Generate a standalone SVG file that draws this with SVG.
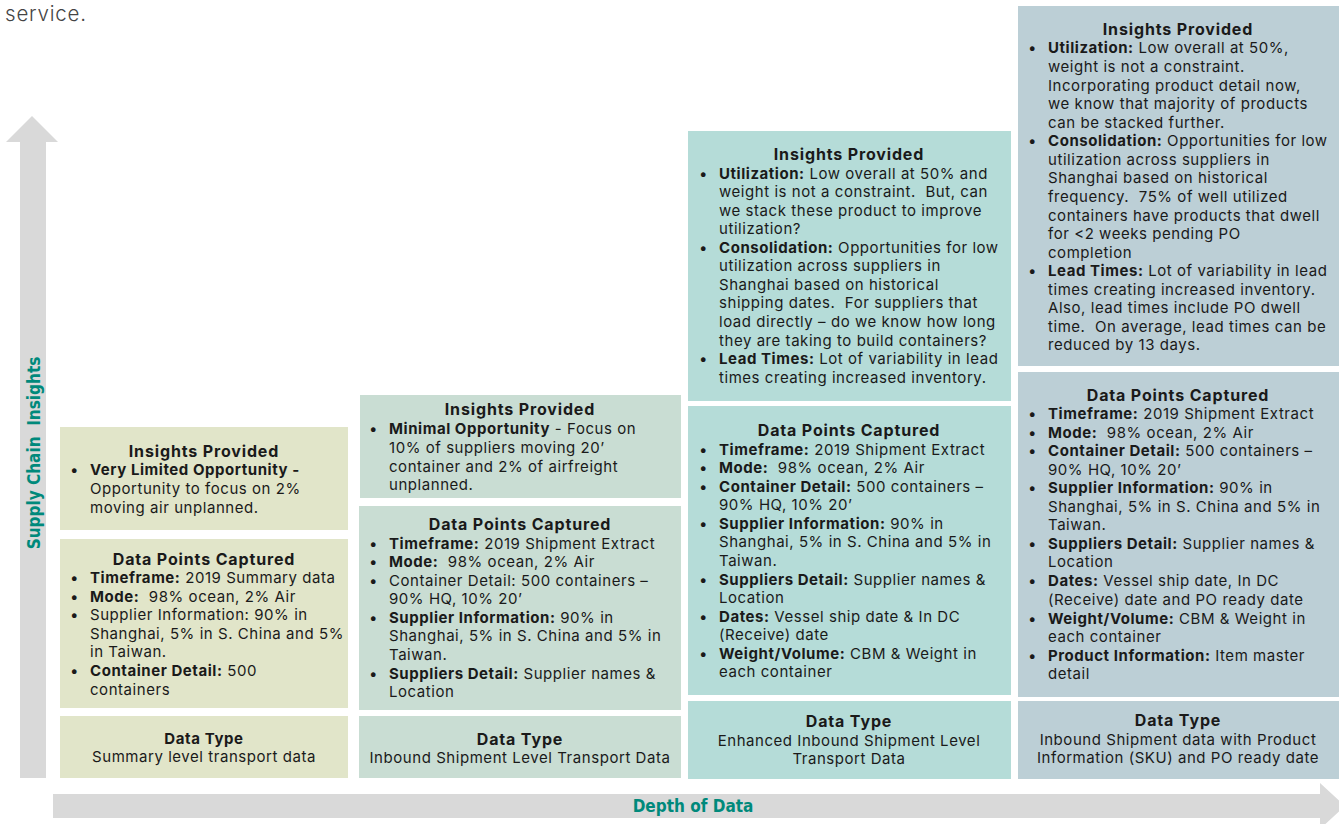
<svg xmlns="http://www.w3.org/2000/svg" width="1339" height="824" viewBox="0 0 1339 824">
<style>
text{font-family:Inter,"DejaVu Sans",sans-serif;fill:#1a1a1a;white-space:pre}
.t{font-size:15px;letter-spacing:0.55px}
.h{font-size:16px;font-weight:700;text-anchor:middle;letter-spacing:0.85px}
.c{font-size:15px;text-anchor:middle;letter-spacing:0.55px}
.b{font-weight:700}
.ax{font-family:"DejaVu Sans Condensed","DejaVu Sans","Liberation Sans",sans-serif;font-weight:700;font-size:17px;fill:#00897b;text-anchor:middle}
.c1{fill:#e1e5c9}.c2{fill:#c9ddd3}.c3{fill:#b5dcd8}.c4{fill:#bccfd6}
.arrow{fill:#d9d9d9}
</style>
<text x="5" y="21" style="font-size:20.5px;fill:#444;font-weight:300;letter-spacing:0.8px">service.</text>
<g id="axes">
<polygon class="arrow" points="32,116 58,142 46,142 46,778 20,778 20,142 6,142"/>
<polygon class="arrow" points="53,794 1320,794 1320,783 1345,806 1320,829 1320,818 53,818"/>
<text class="ax" transform="translate(40,453) rotate(-90)">Supply Chain  Insights</text>
<text class="ax" x="693" y="812">Depth of Data</text>
</g>
<g id="col1-insights">
<rect class="c1" x="60" y="427" width="288" height="103"/>
<text class="h" x="204" y="457">Insights Provided</text>
<text class="t" x="70" y="475">•</text>
<text class="t" x="90" y="475"><tspan class="b">Very Limited Opportunity -</tspan></text>
<text class="t" x="90" y="494">Opportunity to focus on 2%</text>
<text class="t" x="90" y="513">moving air unplanned.</text>
</g>
<g id="col1-data">
<rect class="c1" x="60" y="539" width="288" height="169"/>
<text class="h" x="204" y="565">Data Points Captured</text>
<text class="t" x="70" y="583">•</text>
<text class="t" x="90" y="583"><tspan class="b">Timeframe:</tspan> 2019 Summary data</text>
<text class="t" x="70" y="602">•</text>
<text class="t" x="90" y="602"><tspan class="b">Mode:</tspan>  98% ocean, 2% Air</text>
<text class="t" x="70" y="620">•</text>
<text class="t" x="90" y="620">Supplier Information: 90% in</text>
<text class="t" x="90" y="639">Shanghai, 5% in S. China and 5%</text>
<text class="t" x="90" y="657">in Taiwan.</text>
<text class="t" x="70" y="676">•</text>
<text class="t" x="90" y="676"><tspan class="b">Container Detail:</tspan> 500</text>
<text class="t" x="90" y="695">containers</text>
</g>
<g id="col1-type">
<rect class="c1" x="60" y="716" width="288" height="62"/>
<text class="h" x="204" y="744" style="font-size:15px;letter-spacing:0.6px">Data Type</text>
<text class="c" x="204" y="762">Summary level transport data</text>
</g>
<g id="col2-insights">
<rect class="c2" x="360" y="395" width="321" height="103"/>
<text class="h" x="520" y="415">Insights Provided</text>
<text class="t" x="369" y="434">•</text>
<text class="t" x="389" y="434"><tspan class="b">Minimal Opportunity</tspan> - Focus on</text>
<text class="t" x="389" y="453">10% of suppliers moving 20’</text>
<text class="t" x="389" y="472">container and 2% of airfreight</text>
<text class="t" x="389" y="490">unplanned.</text>
</g>
<g id="col2-data">
<rect class="c2" x="359" y="506" width="322" height="204"/>
<text class="h" x="520" y="530">Data Points Captured</text>
<text class="t" x="369" y="549">•</text>
<text class="t" x="389" y="549"><tspan class="b">Timeframe:</tspan> 2019 Shipment Extract</text>
<text class="t" x="369" y="567">•</text>
<text class="t" x="389" y="567"><tspan class="b">Mode:</tspan>  98% ocean, 2% Air</text>
<text class="t" x="369" y="586">•</text>
<text class="t" x="389" y="586">Container Detail: 500 containers –</text>
<text class="t" x="389" y="604">90% HQ, 10% 20’</text>
<text class="t" x="369" y="623">•</text>
<text class="t" x="389" y="623"><tspan class="b">Supplier Information:</tspan> 90% in</text>
<text class="t" x="389" y="641">Shanghai, 5% in S. China and 5% in</text>
<text class="t" x="389" y="660">Taiwan.</text>
<text class="t" x="369" y="679">•</text>
<text class="t" x="389" y="679"><tspan class="b">Suppliers Detail:</tspan> Supplier names &amp;</text>
<text class="t" x="389" y="697">Location</text>
</g>
<g id="col2-type">
<rect class="c2" x="359" y="716" width="322" height="62"/>
<text class="h" x="520" y="745">Data Type</text>
<text class="c" x="520" y="763">Inbound Shipment Level Transport Data</text>
</g>
<g id="col3-insights">
<rect class="c3" x="688" y="131" width="323" height="270"/>
<text class="h" x="849" y="160">Insights Provided</text>
<text class="t" x="699" y="179">•</text>
<text class="t" x="719" y="179"><tspan class="b">Utilization:</tspan> Low overall at 50% and</text>
<text class="t" x="719" y="197">weight is not a constraint.  But, can</text>
<text class="t" x="719" y="216">we stack these product to improve</text>
<text class="t" x="719" y="234">utilization?</text>
<text class="t" x="699" y="253">•</text>
<text class="t" x="719" y="253"><tspan class="b">Consolidation:</tspan> Opportunities for low</text>
<text class="t" x="719" y="271">utilization across suppliers in</text>
<text class="t" x="719" y="290">Shanghai based on historical</text>
<text class="t" x="719" y="308">shipping dates.  For suppliers that</text>
<text class="t" x="719" y="327">load directly – do we know how long</text>
<text class="t" x="719" y="346">they are taking to build containers?</text>
<text class="t" x="699" y="364">•</text>
<text class="t" x="719" y="364"><tspan class="b">Lead Times:</tspan> Lot of variability in lead</text>
<text class="t" x="719" y="383">times creating increased inventory.</text>
</g>
<g id="col3-data">
<rect class="c3" x="688" y="406" width="323" height="289"/>
<text class="h" x="849" y="436">Data Points Captured</text>
<text class="t" x="699" y="455">•</text>
<text class="t" x="719" y="455"><tspan class="b">Timeframe:</tspan> 2019 Shipment Extract</text>
<text class="t" x="699" y="473">•</text>
<text class="t" x="719" y="473"><tspan class="b">Mode:</tspan>  98% ocean, 2% Air</text>
<text class="t" x="699" y="492">•</text>
<text class="t" x="719" y="492"><tspan class="b">Container Detail:</tspan> 500 containers –</text>
<text class="t" x="719" y="510">90% HQ, 10% 20’</text>
<text class="t" x="699" y="529">•</text>
<text class="t" x="719" y="529"><tspan class="b">Supplier Information:</tspan> 90% in</text>
<text class="t" x="719" y="547">Shanghai, 5% in S. China and 5% in</text>
<text class="t" x="719" y="566">Taiwan.</text>
<text class="t" x="699" y="585">•</text>
<text class="t" x="719" y="585"><tspan class="b">Suppliers Detail:</tspan> Supplier names &amp;</text>
<text class="t" x="719" y="603">Location</text>
<text class="t" x="699" y="622">•</text>
<text class="t" x="719" y="622"><tspan class="b">Dates:</tspan> Vessel ship date &amp; In DC</text>
<text class="t" x="719" y="640">(Receive) date</text>
<text class="t" x="699" y="659">•</text>
<text class="t" x="719" y="659"><tspan class="b">Weight/Volume:</tspan> CBM &amp; Weight in</text>
<text class="t" x="719" y="677">each container</text>
</g>
<g id="col3-type">
<rect class="c3" x="688" y="701" width="323" height="78"/>
<text class="h" x="849" y="727">Data Type</text>
<text class="c" x="849" y="746">Enhanced Inbound Shipment Level</text>
<text class="c" x="849" y="764">Transport Data</text>
</g>
<g id="col4-insights">
<rect class="c4" x="1018" y="6" width="321" height="360"/>
<text class="h" x="1178" y="35">Insights Provided</text>
<text class="t" x="1028" y="53">•</text>
<text class="t" x="1048" y="53"><tspan class="b">Utilization:</tspan> Low overall at 50%,</text>
<text class="t" x="1048" y="72">weight is not a constraint.</text>
<text class="t" x="1048" y="91">Incorporating product detail now,</text>
<text class="t" x="1048" y="109">we know that majority of products</text>
<text class="t" x="1048" y="128">can be stacked further.</text>
<text class="t" x="1028" y="146">•</text>
<text class="t" x="1048" y="146"><tspan class="b">Consolidation:</tspan> Opportunities for low</text>
<text class="t" x="1048" y="165">utilization across suppliers in</text>
<text class="t" x="1048" y="183">Shanghai based on historical</text>
<text class="t" x="1048" y="202">frequency.  75% of well utilized</text>
<text class="t" x="1048" y="221">containers have products that dwell</text>
<text class="t" x="1048" y="239">for &lt;2 weeks pending PO</text>
<text class="t" x="1048" y="258">completion</text>
<text class="t" x="1028" y="276">•</text>
<text class="t" x="1048" y="276"><tspan class="b">Lead Times:</tspan> Lot of variability in lead</text>
<text class="t" x="1048" y="295">times creating increased inventory.</text>
<text class="t" x="1048" y="313">Also, lead times include PO dwell</text>
<text class="t" x="1048" y="332">time.  On average, lead times can be</text>
<text class="t" x="1048" y="350">reduced by 13 days.</text>
</g>
<g id="col4-data">
<rect class="c4" x="1018" y="372" width="321" height="325"/>
<text class="h" x="1178" y="401">Data Points Captured</text>
<text class="t" x="1028" y="419">•</text>
<text class="t" x="1048" y="419"><tspan class="b">Timeframe:</tspan> 2019 Shipment Extract</text>
<text class="t" x="1028" y="438">•</text>
<text class="t" x="1048" y="438"><tspan class="b">Mode:</tspan>  98% ocean, 2% Air</text>
<text class="t" x="1028" y="456">•</text>
<text class="t" x="1048" y="456"><tspan class="b">Container Detail:</tspan> 500 containers –</text>
<text class="t" x="1048" y="475">90% HQ, 10% 20’</text>
<text class="t" x="1028" y="493">•</text>
<text class="t" x="1048" y="493"><tspan class="b">Supplier Information:</tspan> 90% in</text>
<text class="t" x="1048" y="512">Shanghai, 5% in S. China and 5% in</text>
<text class="t" x="1048" y="530">Taiwan.</text>
<text class="t" x="1028" y="549">•</text>
<text class="t" x="1048" y="549"><tspan class="b">Suppliers Detail:</tspan> Supplier names &amp;</text>
<text class="t" x="1048" y="567">Location</text>
<text class="t" x="1028" y="586">•</text>
<text class="t" x="1048" y="586"><tspan class="b">Dates:</tspan> Vessel ship date, In DC</text>
<text class="t" x="1048" y="605">(Receive) date and PO ready date</text>
<text class="t" x="1028" y="624">•</text>
<text class="t" x="1048" y="624"><tspan class="b">Weight/Volume:</tspan> CBM &amp; Weight in</text>
<text class="t" x="1048" y="642">each container</text>
<text class="t" x="1028" y="661">•</text>
<text class="t" x="1048" y="661"><tspan class="b">Product Information:</tspan> Item master</text>
<text class="t" x="1048" y="679">detail</text>
</g>
<g id="col4-type">
<rect class="c4" x="1018" y="701" width="321" height="78"/>
<text class="h" x="1178" y="726">Data Type</text>
<text class="c" x="1178" y="745">Inbound Shipment data with Product</text>
<text class="c" x="1178" y="763">Information (SKU) and PO ready date</text>
</g>
</svg>
